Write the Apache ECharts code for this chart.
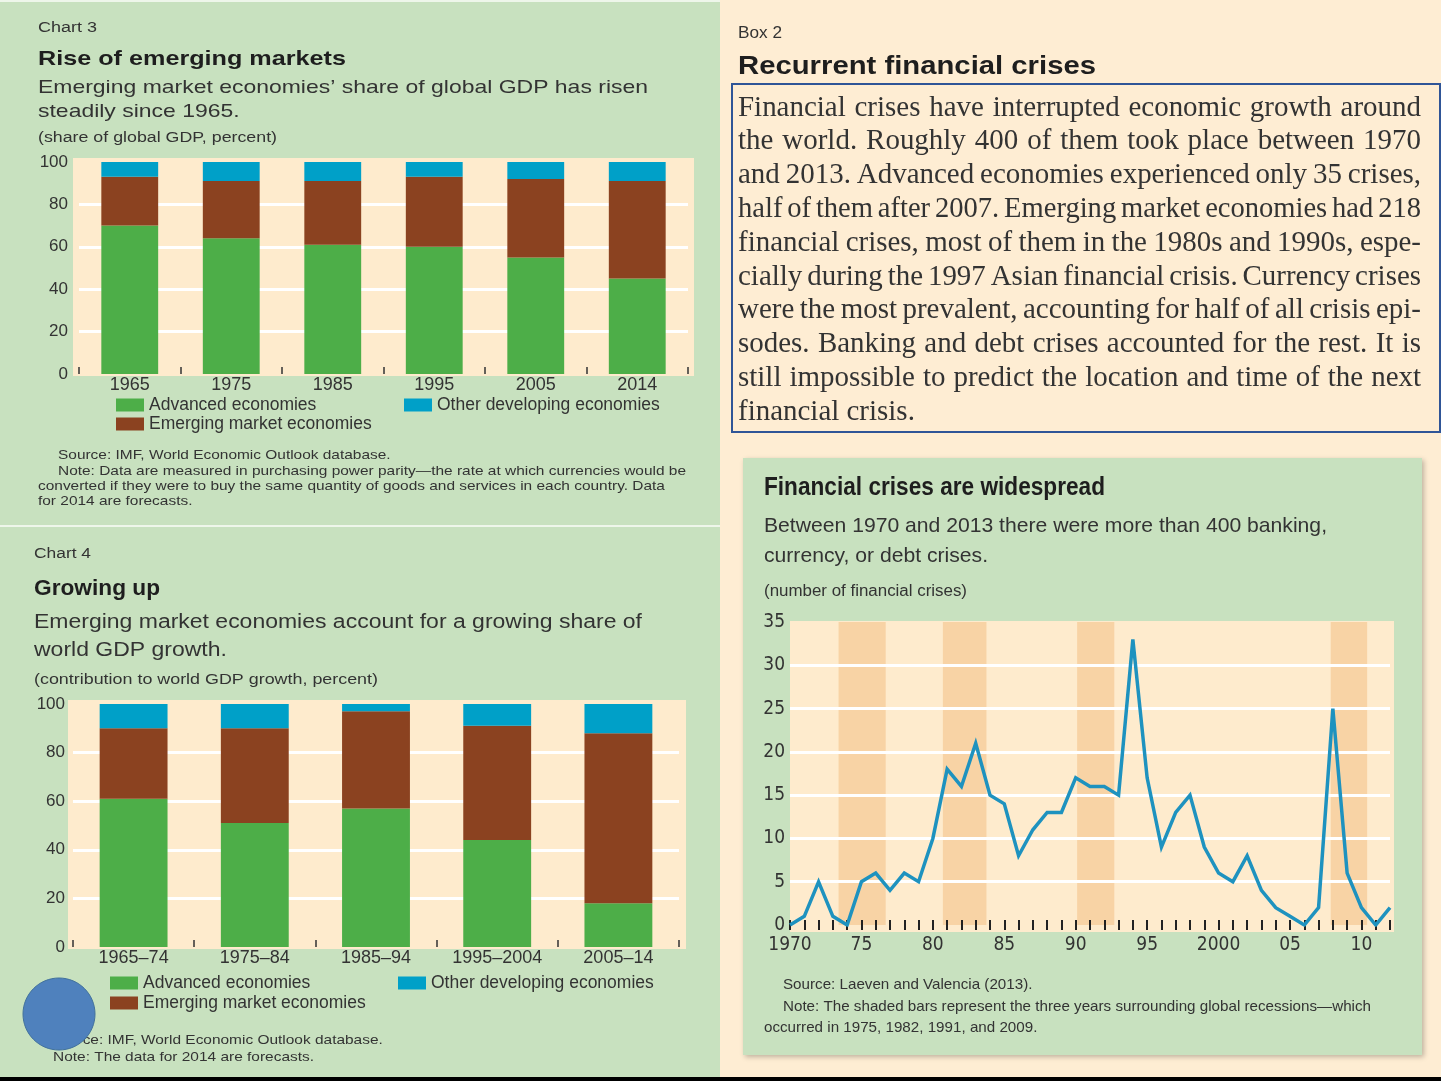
<!DOCTYPE html>
<html>
<head>
<meta charset="utf-8">
<script src="https://cdn.jsdelivr.net/npm/echarts@6/dist/echarts.min.js"></script>
<style>
html,body{margin:0;padding:0;background:#FEEDD3;}
#c{width:1441px;height:1081px;}
</style>
</head>
<body>
<div id="c"></div>
<script>
// ---------------- DATA ----------------
// Chart 3: share of global GDP (percent)
const gdpShareYears = ['1965', '1975', '1985', '1995', '2005', '2014'];
const gdpShareAdvanced = [70, 64, 61, 60, 55, 45];
const gdpShareEmerging = [23, 27, 30, 33, 37, 46];
const gdpShareOther = [7, 9, 9, 7, 8, 9];

// Chart 4: contribution to world GDP growth (percent)
const growthPeriods = ['1965–74', '1975–84', '1985–94', '1995–2004', '2005–14'];
const growthAdvanced = [61, 51, 57, 44, 18];
const growthEmerging = [29, 39, 40, 47, 70];
const growthOther = [10, 10, 3, 9, 12];

// Financial crises per year, 1970–2012
const crisisYears = [1970, 1971, 1972, 1973, 1974, 1975, 1976, 1977, 1978, 1979,
  1980, 1981, 1982, 1983, 1984, 1985, 1986, 1987, 1988, 1989,
  1990, 1991, 1992, 1993, 1994, 1995, 1996, 1997, 1998, 1999,
  2000, 2001, 2002, 2003, 2004, 2005, 2006, 2007, 2008, 2009,
  2010, 2011, 2012];
const crisisCounts = [0, 1, 5, 1, 0, 5, 6, 4, 6, 5,
  10, 18, 16, 21, 15, 14, 8, 11, 13, 13,
  17, 16, 16, 15, 33, 17, 9, 13, 15, 9,
  6, 5, 8, 4, 2, 1, 0, 2, 25, 6,
  2, 0, 2];
// shaded recession bands (start year, end year)
const recessionBandStart = [1973.4, 1980.7, 1990.1, 2007.85];
const recessionBandEnd = [1976.7, 1983.75, 1992.7, 2010.4];
// tick labels on the crisis chart
const crisisLabelYears = [1970, 1975, 1980, 1985, 1990, 1995, 2000, 2005, 2010];
const crisisLabelText = ['1970', '75', '80', '85', '90', '95', '2000', '05', '10'];

const legendNames = ['Advanced economies', 'Emerging market economies', 'Other developing economies'];

const boxParagraph = [
  'Financial crises have interrupted economic growth around',
  'the world. Roughly 400 of them took place between 1970',
  'and 2013. Advanced economies experienced only 35 crises,',
  'half of them after 2007. Emerging market economies had 218',
  'financial crises, most of them in the 1980s and 1990s, espe-',
  'cially during the 1997 Asian financial crisis. Currency crises',
  'were the most prevalent, accounting for half of all crisis epi-',
  'sodes. Banking and debt crises accounted for the rest. It is',
  'still impossible to predict the location and time of the next',
  'financial crisis.'
];

// ---------------- STYLE ----------------
const SANS = "'Liberation Sans', Arial, sans-serif";
const NARROW = "'Liberation Sans Narrow', 'DejaVu Sans Condensed', 'Liberation Sans', sans-serif";
const SERIF = "'Liberation Serif', 'Times New Roman', serif";
const GREEN_BG = '#C8E1BF';
const CREAM_BG = '#FEEDD3';
const PLOT = '#FEEBCD';
const BAND = '#F8D3A5';
const C_ADV = '#4DAE48';
const C_EM = '#8B4220';
const C_OTH = '#00A0C8';
const C_LINE = '#1E92BF';
const TXT = '#2b2b2b';

const ctx = document.createElement('canvas').getContext('2d');
function measure(str, size, family, weight) {
  ctx.font = (weight || 'normal') + ' ' + size + 'px ' + family;
  return ctx.measureText(str).width;
}
function textEl(x, y, str, size, o) {
  o = o || {};
  return {
    type: 'text', x: x, y: y, scaleX: o.sx || 1, z: o.z || 10, silent: true,
    style: {
      text: str, x: 0, y: 0, fill: o.color || TXT, fontSize: size,
      fontFamily: o.family || SANS, fontWeight: o.weight || 'normal',
      align: 'left', verticalAlign: 'middle'
    }
  };
}
// block of lines sharing a horizontal scale, fitted on one reference line
function block(lines, size, o, fitIdx, fitWidth) {
  const fam = o.family || SANS, wt = o.weight || 'normal';
  const sx = fitWidth / measure(lines[fitIdx][2], size, fam, wt);
  return lines.map(l => textEl(l[0], l[1], l[2], size, Object.assign({}, o, { sx: sx })));
}
function paragraph() {
  const els = [];
  const X0 = 738, X1 = 1421, Y0 = 108, DY = 33.8;
  const W = X1 - X0;
  // font size chosen so that a typical justified line has ~0.22em word gaps
  const cands = boxParagraph.slice(0, -1).map(ln => {
    const words = ln.split(' ');
    const nat = words.reduce((a, w) => a + measure(w, 100, SERIF), 0) + 22 * (words.length - 1);
    return W * 100 / nat;
  }).sort((a, b) => a - b);
  let FS = cands[Math.floor(cands.length / 2)];
  FS = Math.max(24, Math.min(30, FS));
  boxParagraph.forEach((ln, i) => {
    const y = Y0 + i * DY;
    const words = ln.split(' ');
    const ww = words.map(w => measure(w, FS, SERIF));
    const sum = ww.reduce((a, b) => a + b, 0);
    const minGap = FS * 0.17;
    let s = 1, gap;
    if (i === boxParagraph.length - 1) {
      gap = FS * 0.25;
    } else {
      gap = (W - sum) / (words.length - 1);
      if (gap < minGap) { s = W / (sum + minGap * (words.length - 1)); gap = minGap * s; }
    }
    let x = X0;
    words.forEach((w, j) => {
      els.push(textEl(x, y, w, FS, { family: SERIF, sx: s, color: '#333' }));
      x += ww[j] * s + gap;
    });
  });
  return els;
}

const graphics = [
  // panels
  { type: 'rect', shape: { x: 0, y: 0, width: 720, height: 525 }, style: { fill: GREEN_BG }, z: -20, silent: true },
  { type: 'rect', shape: { x: 0, y: 0, width: 720, height: 2 }, style: { fill: '#EEF6EA' }, z: -19, silent: true },
  { type: 'rect', shape: { x: 0, y: 525, width: 720, height: 2 }, style: { fill: '#EEF6EA' }, z: -19, silent: true },
  { type: 'rect', shape: { x: 0, y: 527, width: 720, height: 551 }, style: { fill: GREEN_BG }, z: -20, silent: true },
  { type: 'rect', shape: { x: 743, y: 458, width: 679, height: 597 }, style: { fill: GREEN_BG, shadowBlur: 5, shadowOffsetX: 2, shadowOffsetY: 2, shadowColor: 'rgba(0,0,0,0.25)' }, z: -20, silent: true },
  { type: 'rect', shape: { x: 0, y: 1077, width: 1441, height: 4 }, style: { fill: '#000' }, z: 50, silent: true },
  // plot creams
  { type: 'rect', shape: { x: 73, y: 158, width: 621, height: 218 }, style: { fill: PLOT }, z: -10, silent: true },
  { type: 'rect', shape: { x: 68, y: 700, width: 618, height: 249 }, style: { fill: PLOT }, z: -10, silent: true },
  { type: 'rect', shape: { x: 790, y: 621, width: 604, height: 311 }, style: { fill: PLOT }, z: -10, silent: true },
  // box border
  { type: 'rect', shape: { x: 732, y: 84, width: 708, height: 348 }, style: { fill: 'none', stroke: '#2F5597', lineWidth: 2 }, z: 5, silent: true },
  // decorative ellipse
  { type: 'ellipse', shape: { cx: 59, cy: 1014, rx: 36, ry: 36 }, style: { fill: '#4F81BD', stroke: '#41719C', lineWidth: 1 }, z: 100, silent: true }
];

// Chart 3 texts
graphics.push(...block([[38, 28, 'Chart 3']], 14, { color: '#333' }, 0, 59));
graphics.push(...block([[38, 59, 'Rise of emerging markets']], 21, { weight: 'bold', color: '#1e1e1e' }, 0, 308));
graphics.push(...block([[38, 88, 'Emerging market economies’ share of global GDP has risen'], [38, 112, 'steadily since 1965.']], 19, { color: '#333' }, 0, 610));
graphics.push(...block([[38, 138, '(share of global GDP, percent)']], 14, { color: '#333' }, 0, 239));
graphics.push(...block([
  [58, 455, 'Source: IMF, World Economic Outlook database.'],
  [58, 471, 'Note: Data are measured in purchasing power parity—the rate at which currencies would be'],
  [38, 486, 'converted if they were to buy the same quantity of goods and services in each country. Data'],
  [38, 501, 'for 2014 are forecasts.']
], 13, { color: '#333' }, 1, 628));

// Chart 4 texts
graphics.push(...block([[34, 554, 'Chart 4']], 14, { color: '#333' }, 0, 57));
graphics.push(...block([[34, 589, 'Growing up']], 22, { weight: 'bold', color: '#1e1e1e' }, 0, 126));
graphics.push(...block([[34, 622, 'Emerging market economies account for a growing share of'], [34, 650, 'world GDP growth.']], 20, { color: '#333' }, 0, 608));
graphics.push(...block([[34, 680, '(contribution to world GDP growth, percent)']], 15, { color: '#333' }, 0, 344));
graphics.push(...block([
  [50, 1040, 'Source: IMF, World Economic Outlook database.'],
  [53, 1057, 'Note: The data for 2014 are forecasts.']
], 13, { color: '#333' }, 1, 261));

// Right side texts
graphics.push(...block([[738, 33, 'Box 2']], 17, { color: '#333' }, 0, 44));
graphics.push(...block([[738, 67, 'Recurrent financial crises']], 26, { weight: 'bold', color: '#1e1e1e' }, 0, 358));
graphics.push(...paragraph());
graphics.push(...block([[764, 488, 'Financial crises are widespread']], 25, { weight: 'bold', color: '#1e1e1e' }, 0, 341));
graphics.push(...block([[764, 526, 'Between 1970 and 2013 there were more than 400 banking,'], [764, 556, 'currency, or debt crises.']], 21, { color: '#333' }, 0, 563));
graphics.push(...block([[764, 592, '(number of financial crises)']], 16, { color: '#333' }, 0, 203));
graphics.push(...block([
  [783, 985, 'Source: Laeven and Valencia (2013).'],
  [783, 1007, 'Note: The shaded bars represent the three years surrounding global recessions—which'],
  [764, 1028, 'occurred in 1975, 1982, 1991, and 2009.']
], 15, { color: '#333' }, 1, 588));

// ---------------- AXES ----------------
const barGridLine = { show: true, lineStyle: { color: ['rgba(0,0,0,0)', '#fff', '#fff', '#fff', '#fff', 'rgba(0,0,0,0)'], width: 3 } };
function catAxis(grid, data, fs) {
  return {
    gridIndex: grid, type: 'category', data: data,
    axisLine: { show: false },
    axisTick: { show: true, inside: true, length: 7, lineStyle: { color: '#333', width: 1.5 } },
    axisLabel: { margin: 2, fontSize: fs, color: '#333', fontFamily: SANS, interval: 0 },
    splitLine: { show: false }
  };
}
function pctAxis(grid, margin) {
  return {
    gridIndex: grid, type: 'value', min: 0, max: 100, interval: 20,
    axisLine: { show: false }, axisTick: { show: false },
    axisLabel: { margin: margin, fontSize: 17, color: '#333', fontFamily: SANS },
    splitLine: barGridLine
  };
}
function bar(name, grid, stack, data, color) {
  return {
    name: name, type: 'bar', stack: stack, xAxisIndex: grid, yAxisIndex: grid,
    data: data, barWidth: '56%', itemStyle: { color: color }, silent: true
  };
}
const legendCommon = {
  orient: 'horizontal', padding: 0, itemWidth: 28, itemHeight: 13, icon: 'rect', selectedMode: false,
  textStyle: { fontSize: 17.5, color: '#333', fontFamily: SANS }
};
function leg(name, left, top) { return Object.assign({}, legendCommon, { data: [name], left: left, top: top }); }

const crisisPairs = crisisYears.map((y, i) => [y, crisisCounts[i]]);
const bandAreas = recessionBandStart.map((s, i) => [{ xAxis: s }, { xAxis: recessionBandEnd[i] }]);

const option = {
  backgroundColor: CREAM_BG,
  animation: false,
  graphic: { elements: graphics },
  legend: [
    leg(legendNames[0], 116, 396), leg(legendNames[2], 404, 396), leg(legendNames[1], 116, 415),
    leg(legendNames[0], 110, 974), leg(legendNames[2], 398, 974), leg(legendNames[1], 110, 994)
  ],
  grid: [
    { left: 79, top: 162, width: 609, height: 212 },
    { left: 73, top: 704, width: 606, height: 243 },
    { left: 790, top: 622, width: 600, height: 303 }
  ],
  xAxis: [
    catAxis(0, gdpShareYears, 18),
    catAxis(1, growthPeriods, 18),
    {
      gridIndex: 2, type: 'value', min: 1970, max: 2012, interval: 1, offset: -5, z: 3,
      axisLine: { show: false },
      axisTick: { show: true, length: 10, lineStyle: { color: '#222', width: 2 } },
      axisLabel: {
        margin: 16, fontSize: 19, color: '#333', fontFamily: NARROW,
        formatter: function (v) { const k = crisisLabelYears.indexOf(v); return k >= 0 ? crisisLabelText[k] : ''; }
      },
      splitLine: { show: false }
    }
  ],
  yAxis: [
    pctAxis(0, 11),
    pctAxis(1, 8),
    {
      gridIndex: 2, type: 'value', min: 0, max: 35, interval: 5, z: 3,
      axisLine: { show: false }, axisTick: { show: false },
      axisLabel: { margin: 5, fontSize: 19, color: '#333', fontFamily: NARROW },
      splitLine: { show: true, lineStyle: { color: ['rgba(0,0,0,0)', '#fff', '#fff', '#fff', '#fff', '#fff', '#fff', 'rgba(0,0,0,0)'], width: 3 } }
    }
  ],
  series: [
    bar(legendNames[0], 0, 'c3', gdpShareAdvanced, C_ADV),
    bar(legendNames[1], 0, 'c3', gdpShareEmerging, C_EM),
    bar(legendNames[2], 0, 'c3', gdpShareOther, C_OTH),
    bar(legendNames[0], 1, 'c4', growthAdvanced, C_ADV),
    bar(legendNames[1], 1, 'c4', growthEmerging, C_EM),
    bar(legendNames[2], 1, 'c4', growthOther, C_OTH),
    {
      name: 'Global recessions', type: 'line', xAxisIndex: 2, yAxisIndex: 2, z: 2, silent: true,
      data: crisisPairs, symbol: 'none', lineStyle: { opacity: 0 },
      markArea: { silent: true, itemStyle: { color: BAND }, data: bandAreas }
    },
    {
      name: 'Financial crises', type: 'line', xAxisIndex: 2, yAxisIndex: 2, z: 4, silent: true,
      data: crisisPairs, symbol: 'none', showSymbol: false,
      lineStyle: { color: C_LINE, width: 3.5, join: 'miter' }
    }
  ]
};

const chart = echarts.init(document.getElementById('c'), null, { renderer: 'canvas', width: 1441, height: 1081 });
chart.setOption(option);
</script>
</body>
</html>
